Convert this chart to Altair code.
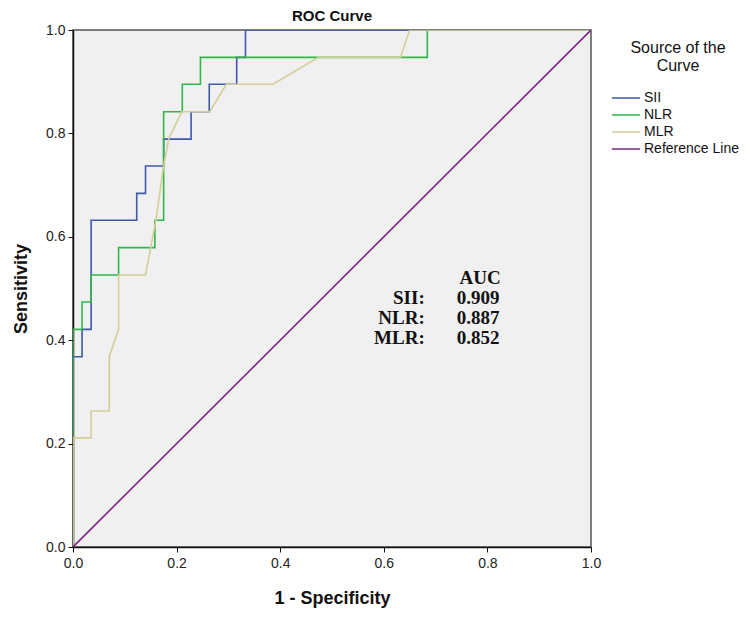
import altair as alt
import pandas as pd

# ---- data ----
sii_x = [0, 0, 0.0175, 0.0175, 0.035, 0.035, 0.123, 0.123, 0.14, 0.14, 0.175, 0.175, 0.228, 0.228, 0.263, 0.263, 0.316, 0.316, 0.333, 0.333, 1.0]
sii_y = [0, 0.368, 0.368, 0.421, 0.421, 0.632, 0.632, 0.684, 0.684, 0.737, 0.737, 0.789, 0.789, 0.842, 0.842, 0.895, 0.895, 0.947, 0.947, 1.0, 1.0]

nlr_x = [0, 0, 0.0175, 0.0175, 0.035, 0.035, 0.088, 0.088, 0.158, 0.158, 0.175, 0.175, 0.211, 0.211, 0.246, 0.246, 0.684, 0.684, 1.0]
nlr_y = [0, 0.421, 0.421, 0.474, 0.474, 0.526, 0.526, 0.579, 0.579, 0.632, 0.632, 0.842, 0.842, 0.895, 0.895, 0.947, 0.947, 1.0, 1.0]

mlr_x = [0, 0, 0.035, 0.035, 0.07, 0.07, 0.088, 0.088, 0.14, 0.16, 0.175, 0.185, 0.21, 0.264, 0.296, 0.386, 0.474, 0.632, 0.65, 1.0]
mlr_y = [0, 0.211, 0.211, 0.263, 0.263, 0.368, 0.421, 0.526, 0.526, 0.632, 0.737, 0.79, 0.842, 0.842, 0.895, 0.895, 0.947, 0.947, 1.0, 1.0]

ref_x = [0, 1]
ref_y = [0, 1]

series_names = ["SII", "NLR", "MLR", "Reference Line"]
series_colors = ["#3E58AC", "#2EB848", "#D3CE97", "#7C287D"]

auc_names = ["SII:", "NLR:", "MLR:"]
auc_values = ["0.909", "0.887", "0.852"]
auc_rows_y = [0.481, 0.443, 0.404]

rows = []
for name, xs, ys in zip(series_names, [sii_x, nlr_x, mlr_x, ref_x], [sii_y, nlr_y, mlr_y, ref_y]):
    for i, (xv, yv) in enumerate(zip(xs, ys)):
        rows.append({"series": name, "x": xv, "y": yv, "order": i})
df = pd.DataFrame(rows)

xscale = alt.Scale(domain=[0, 1], nice=False, zero=False)
yscale = alt.Scale(domain=[0, 1], nice=False, zero=False)

lines = alt.Chart(df).mark_line(strokeWidth=1.6, clip=True).encode(
    x=alt.X("x:Q", scale=xscale,
            axis=alt.Axis(title="1 - Specificity", values=[0, 0.2, 0.4, 0.6, 0.8, 1.0], format=".1f",
                          grid=False, tickSize=5, labelFontSize=14, titleFontSize=18,
                          titleFontWeight="bold", titlePadding=19, labelPadding=4, labelFlush=False)),
    y=alt.Y("y:Q", scale=yscale,
            axis=alt.Axis(title="Sensitivity", values=[0, 0.2, 0.4, 0.6, 0.8, 1.0], format=".1f",
                          grid=False, tickSize=5, labelFontSize=14, titleFontSize=18,
                          titleFontWeight="bold", titlePadding=15, labelPadding=3, labelFlush=False)),
    color=alt.Color("series:N",
                    scale=alt.Scale(domain=series_names, range=series_colors),
                    sort=series_names,
                    legend=alt.Legend(title=["Source of the", "Curve"], orient="none",
                                      legendX=545, legendY=10, symbolType="M-2,0H2",
                                      symbolSize=200, symbolStrokeWidth=1.5,
                                      titleFontSize=16, titleFontWeight="normal",
                                      titleAlign="center", titleAnchor="middle",
                                      labelFontSize=14, labelOffset=10, rowPadding=2,
                                      titlePadding=16)),
    order="order:Q",
)

auc_df = pd.DataFrame({"name": auc_names, "value": auc_values, "yy": auc_rows_y})
auc_head = pd.DataFrame({"t": ["AUC"], "xx": [0.786], "yy": [0.52]})

head = alt.Chart(auc_head).mark_text(font="Liberation Serif", fontWeight="bold", fontSize=19,
                                      align="center", baseline="middle", color="#111").encode(
    x=alt.X("xx:Q", scale=xscale), y=alt.Y("yy:Q", scale=yscale), text="t:N")

names = alt.Chart(auc_df).mark_text(font="Liberation Serif", fontWeight="bold", fontSize=19,
                                     align="right", baseline="middle", color="#111").encode(
    x=alt.value(0.679 * 518), y=alt.Y("yy:Q", scale=yscale), text="name:N")

vals = alt.Chart(auc_df).mark_text(font="Liberation Serif", fontWeight="bold", fontSize=19,
                                    align="left", baseline="middle", color="#111").encode(
    x=alt.value(0.741 * 518), y=alt.Y("yy:Q", scale=yscale), text="value:N")

chart = alt.layer(lines, head, names, vals).properties(
    width=518, height=517,
    title=alt.TitleParams("ROC Curve", fontSize=15, fontWeight="bold", anchor="middle", offset=-1, color="#111"),
    autosize=alt.AutoSizeParams(type="none"),
    padding={"left": 65, "top": 22, "right": 150, "bottom": 66},
).configure_view(
    fill="#F0F0F0", stroke="#555555", strokeWidth=1.5
).configure_axis(
    domainColor="#111", tickColor="#111", labelColor="#222", titleColor="#111",
    labelFont="Liberation Sans", titleFont="Liberation Sans", domainWidth=1.5
).configure_legend(
    labelFont="Liberation Sans", titleFont="Liberation Sans", labelColor="#111", titleColor="#111"
).configure_title(font="Liberation Sans")

chart.save("out.html", embed_options={"renderer": "svg", "actions": False})
